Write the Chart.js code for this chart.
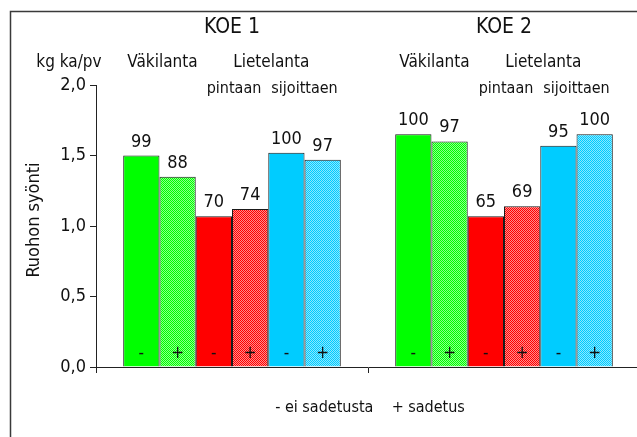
<!DOCTYPE html>
<html>
<head>
<meta charset="utf-8">
<script src="https://cdn.jsdelivr.net/npm/chart.js@4/dist/chart.umd.min.js"></script>
<style>
  html, body { margin: 0; padding: 0; overflow: hidden; background: #fff; }
  #wrap { width: 660px; height: 437px; }
</style>
</head>
<body>
<div id="wrap"><canvas id="chart" width="660" height="437"></canvas></div>
<script>
// Categories (experiments)
const experiments = ["KOE 1", "KOE 2"];

// Grass intake, kg ka/pv  (- = no irrigation, + = irrigation)
const vakilantaMinus = [1.50, 1.65];
const vakilantaPlus = [1.35, 1.60];
const pintaanMinus = [1.07, 1.07];
const pintaanPlus = [1.12, 1.14];
const sijoittaenMinus = [1.52, 1.57];
const sijoittaenPlus = [1.47, 1.65];

// Relative values printed above the bars
const relVakilantaMinus = [99, 100];
const relVakilantaPlus = [88, 97];
const relPintaanMinus = [70, 65];
const relPintaanPlus = [74, 69];
const relSijoittaenMinus = [100, 95];
const relSijoittaenPlus = [97, 100];

const yTicks = [0, 0.5, 1.0, 1.5, 2.0];

const FONT = "'DejaVu Sans Condensed', 'Liberation Sans Narrow', 'Liberation Sans', sans-serif";

// small checker pattern for the "+" (irrigated) bars
function makePattern(base, tint) {
  const c = document.createElement("canvas");
  c.width = 2;
  c.height = 2;
  const g = c.getContext("2d");
  g.fillStyle = base;
  g.fillRect(0, 0, 2, 2);
  g.fillStyle = tint;
  g.fillRect(1, 0, 1, 1);
  g.fillRect(0, 1, 1, 1);
  return g.createPattern(c, "repeat");
}

const ctx = document.getElementById("chart").getContext("2d");

const datasets = [
  { label: "Väkilanta -", mark: "-", data: vakilantaMinus, rel: relVakilantaMinus, backgroundColor: "#00ff00" },
  { label: "Väkilanta +", mark: "+", data: vakilantaPlus, rel: relVakilantaPlus, backgroundColor: makePattern("#00ff00", "#8cff8c") },
  { label: "pintaan -", mark: "-", data: pintaanMinus, rel: relPintaanMinus, backgroundColor: "#ff0000" },
  { label: "pintaan +", mark: "+", data: pintaanPlus, rel: relPintaanPlus, backgroundColor: makePattern("#ff0000", "#ff8c8c") },
  { label: "sijoittaen -", mark: "-", data: sijoittaenMinus, rel: relSijoittaenMinus, backgroundColor: "#00ccff" },
  { label: "sijoittaen +", mark: "+", data: sijoittaenPlus, rel: relSijoittaenPlus, backgroundColor: makePattern("#00ccff", "#8ce6ff") },
].map((d) => ({
  ...d,
  borderColor: "#1a1a1a",
  borderWidth: 1,
  barPercentage: 1.0,
  categoryPercentage: 0.8,
}));

// frame around the whole figure (runs off the right and bottom edge)
const framePlugin = {
  id: "frame",
  beforeDraw(chart) {
    const c = chart.ctx;
    c.save();
    c.fillStyle = "#fff";
    c.fillRect(0, 0, chart.width, chart.height);
    c.strokeStyle = "#3a3a3a";
    c.lineWidth = 1.5;
    c.strokeRect(10.5, 11.5, 700, 500);
    c.restore();
  },
};

// texts: value labels, -/+ marks, headings, axis titles
const labelPlugin = {
  id: "labels",
  afterDatasetsDraw(chart) {
    const c = chart.ctx;
    const area = chart.chartArea;
    const x = chart.scales.x;
    c.save();
    c.fillStyle = "#111";
    c.textAlign = "center";

    chart.data.datasets.forEach((ds, i) => {
      chart.getDatasetMeta(i).data.forEach((bar, j) => {
        c.font = "18px " + FONT;
        c.textBaseline = "alphabetic";
        c.fillText(String(ds.rel[j]), bar.x, bar.y - 9);
        c.font = "17px " + FONT;
        c.textBaseline = "middle";
        c.fillText(ds.mark, bar.x, area.bottom - 13);
      });
    });

    c.textBaseline = "alphabetic";
    experiments.forEach((name, j) => {
      const bars = [0, 1, 2, 3, 4, 5].map((i) => chart.getDatasetMeta(i).data[j]);
      c.font = "21px " + FONT;
      c.fillText(name, x.getPixelForValue(j), 33);
      c.font = "17px " + FONT;
      c.fillText("Väkilanta", (bars[0].x + bars[1].x) / 2 + 3, 67);
      c.fillText("Lietelanta", (bars[2].x + bars[5].x) / 2 + 3, 67);
      c.font = "16px " + FONT;
      c.fillText("pintaan", (bars[2].x + bars[3].x) / 2 + 2, 93);
      c.fillText("sijoittaen", (bars[4].x + bars[5].x) / 2, 93);
    });

    c.font = "17px " + FONT;
    c.fillText("kg ka/pv", area.left - 27, 67);

    c.font = "16px " + FONT;
    const mid = (x.getPixelForValue(0) + x.getPixelForValue(1)) / 2;
    c.fillText("- ei sadetusta    + sadetus", mid + 2, 412);

    c.font = "18px " + FONT;
    c.translate(39, (area.top + area.bottom) / 2 - 6);
    c.rotate(-Math.PI / 2);
    c.fillText("Ruohon syönti", 0, 0);
    c.restore();
  },
};

new Chart(ctx, {
  type: "bar",
  data: { labels: experiments, datasets: datasets },
  options: {
    responsive: false,
    devicePixelRatio: 1,
    animation: false,
    layout: { padding: { left: 0, top: 85, right: 20, bottom: 64 } },
    plugins: { legend: { display: false }, tooltip: { enabled: false } },
    scales: {
      x: {
        grid: { offset: true, drawOnChartArea: false, tickLength: 6, color: "#222" },
        border: { color: "#222", width: 1 },
        ticks: { display: false },
        afterFit: (s) => { s.height = 6; },
      },
      y: {
        min: 0,
        max: 2,
        afterBuildTicks: (s) => { s.ticks = yTicks.map((v) => ({ value: v })); },
        ticks: {
          color: "#111",
          padding: 4,
          font: { size: 18, family: FONT },
          callback: (v) => v.toFixed(1).replace(".", ","),
        },
        grid: { drawOnChartArea: false, tickLength: 6, color: "#222" },
        border: { color: "#222", width: 1 },
        afterFit: (s) => { s.width = 96; },
      },
    },
  },
  plugins: [framePlugin, labelPlugin],
});
</script>
</body>
</html>
